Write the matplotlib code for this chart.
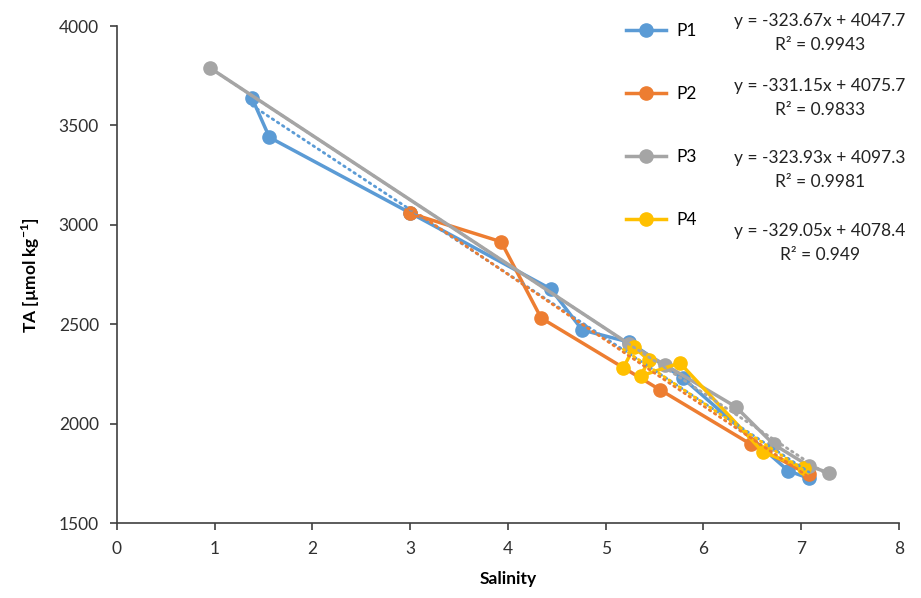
import matplotlib
matplotlib.use("Agg")
import matplotlib.pyplot as plt
from matplotlib.lines import Line2D
import numpy as np

plt.rcParams['font.family'] = ['Lato', 'DejaVu Sans']
plt.rcParams['mathtext.fontset'] = 'custom'
plt.rcParams['mathtext.rm'] = 'Lato'
plt.rcParams['mathtext.bf'] = 'Lato:bold'

# data
p1_x = [1.38, 1.56, 3.0, 4.44, 4.76, 5.24, 5.79, 6.87, 7.08]
p1_y = [3639, 3440, 3060, 2677, 2471, 2410, 2229, 1762, 1725]

p2_x = [3.0, 3.93, 4.34, 5.56, 6.49, 7.08]
p2_y = [3058, 2915, 2531, 2169, 1895, 1745]

p3_x = [0.95, 5.24, 5.61, 6.33, 6.72, 7.08, 7.29]
p3_y = [3790, 2400, 2295, 2085, 1895, 1787, 1751]

p4_x = [5.18, 5.29, 5.44, 5.36, 5.76, 6.61, 7.03]
p4_y = [2280, 2385, 2320, 2240, 2305, 1857, 1777]

names = ['P1', 'P2', 'P3', 'P4']
colors = ['#5B9BD5', '#ED7D31', '#A5A5A5', '#FFC000']
slopes = [-323.67, -331.15, -323.93, -329.05]
intercepts = [4047.7, 4075.7, 4097.3, 4078.4]
r2 = ['0.9943', '0.9833', '0.9981', '0.949']

xs = [p1_x, p2_x, p3_x, p4_x]
ys = [p1_y, p2_y, p3_y, p4_y]

fig = plt.figure(figsize=(9.21, 5.98), dpi=100)
ax = fig.add_axes([0.127, 0.1254, 0.849, 0.831])

for x, y, c in zip(xs, ys, colors):
    ax.plot(x, y, color=c, lw=2.5, marker='o', ms=9.5, zorder=2)

# linear trendlines (dotted)
for x, m, b, c in zip(xs, slopes, intercepts, colors):
    tx = np.array([min(x), max(x)])
    ax.plot(tx, m * tx + b, color=c, lw=2.0, ls=(0, (0.6, 1.6)),
            dash_capstyle='round', zorder=3)

ax.set_xlim(0, 8)
ax.set_ylim(1500, 4000)
ax.set_xticks(range(0, 9))
ax.set_yticks(range(1500, 4001, 500))
ax.spines['top'].set_visible(False)
ax.spines['right'].set_visible(False)
for s in ['left', 'bottom']:
    ax.spines[s].set_color('#404040')
    ax.spines[s].set_linewidth(1.2)
ax.tick_params(direction='out', length=5, width=1.2, color='#404040',
               labelsize=12.5, labelcolor='#303030', pad=8)

ax.set_xlabel('Salinity', fontsize=12.5, fontweight='bold', labelpad=10)
ax.set_ylabel(r'TA [µmol kg$^{\mathbf{-1}}$]', fontsize=12.5, fontweight='bold', labelpad=12)

handles = [Line2D([0], [0], color=c, lw=2.5, marker='o', ms=9.5) for c in colors]
ax.legend(handles, names, loc='upper left', bbox_to_anchor=(617 / 921, 1 - 14 / 598),
          bbox_transform=fig.transFigure, frameon=False, fontsize=12.5,
          labelspacing=2.72, handlelength=2.3, handletextpad=0.6, borderpad=0)

eq_y = [33, 98, 170, 243]
for m, b, r, yy in zip(slopes, intercepts, r2, eq_y):
    fig.text(820 / 921, 1 - yy / 598,
             'y = %.2fx + %.1f\nR² = %s' % (m, b, r),
             ha='center', va='center', fontsize=12.5, color='#222222',
             linespacing=1.6)

fig.savefig('out.png', dpi=100)
